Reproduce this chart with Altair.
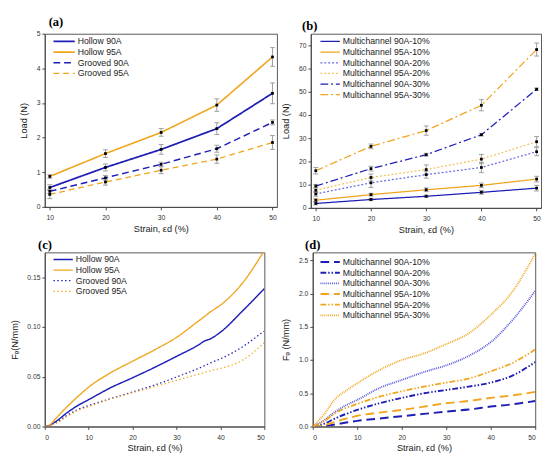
import altair as alt
import pandas as pd

FONT = "Liberation Sans"
BLUE = "#1f1fb5"
GOLD = "#f0a51c"
ERR = "#9c9c9c"

# ---------------- (a) ----------------
strain_ab = [10, 20, 30, 40, 50]
a_names = ["Hollow 90A", "Hollow 95A", "Grooved 90A", "Grooved 95A"]
a_vals = [
    [0.56, 1.14, 1.66, 2.26, 3.28],
    [0.88, 1.54, 2.15, 2.94, 4.33],
    [0.45, 0.84, 1.23, 1.68, 2.44],
    [0.36, 0.72, 1.06, 1.38, 1.86],
]
a_errs = [
    [0.08, 0.10, 0.14, 0.17, 0.30],
    [0.05, 0.11, 0.11, 0.18, 0.27],
    [0.06, 0.07, 0.06, 0.10, 0.07],
    [0.12, 0.09, 0.10, 0.12, 0.20],
]
a_colors = [BLUE, GOLD, BLUE, GOLD]
a_dashes = [[1, 0], [1, 0], [7, 4], [6, 4]]
a_widths = [1.8, 1.3, 2.2, 1.8]

# ---------------- (b) ----------------
b_names = ["Multichannel 90A-10%", "Multichannel 95A-10%", "Multichannel 90A-20%",
           "Multichannel 95A-20%", "Multichannel 90A-30%", "Multichannel 95A-30%"]
b_vals = [
    [1.9, 3.6, 5.0, 6.7, 8.5],
    [3.3, 5.7, 7.8, 9.7, 12.4],
    [6.0, 10.8, 14.3, 17.4, 24.2],
    [7.6, 13.1, 16.5, 21.0, 28.5],
    [9.4, 16.9, 22.9, 31.5, 51.1],
    [16.0, 26.5, 33.3, 44.2, 68.2],
]
b_errs = [
    [0.6, 0.5, 0.5, 0.8, 1.2],
    [0.6, 0.6, 0.8, 1.0, 1.2],
    [1.0, 2.0, 1.5, 2.2, 1.7],
    [1.0, 1.5, 2.0, 2.0, 2.2],
    [0.7, 1.0, 0.6, 0.5, 0.5],
    [1.4, 1.0, 2.0, 2.4, 2.8],
]
b_colors = [BLUE, GOLD, "#6a6ae0", "#f3c260", BLUE, GOLD]
b_dashes = [[1, 0], [1, 0], [2, 2], [2, 2], [8, 3, 2, 3], [8, 3, 2, 3]]
b_widths = [1.3, 1.3, 1.0, 1.0, 2.0, 2.0]

# ---------------- (c) ----------------
strain_c = [0, 1, 2.5, 5, 7.5, 10, 15, 20, 25, 30, 35, 36.5, 37.5, 40, 45, 50]
c_names = ["Hollow 90A", "Hollow 95A", "Grooved 90A", "Grooved 95A"]
c_vals = [
    [0, 0.001, 0.005, 0.0136, 0.021, 0.027, 0.039, 0.049, 0.0594, 0.0705, 0.082, 0.0862, 0.0877, 0.0948, 0.116, 0.1386],
    [0, 0.001, 0.008, 0.0195, 0.030, 0.0396, 0.054, 0.0656, 0.077, 0.0896, 0.106, 0.111, 0.1145, 0.122, 0.144, 0.177],
    [0, 0.001, 0.004, 0.011, 0.017, 0.021, 0.028, 0.0347, 0.0416, 0.0497, 0.0584, 0.0613, 0.0635, 0.068, 0.080, 0.0964],
    [0, 0.001, 0.003, 0.0097, 0.016, 0.020, 0.0276, 0.034, 0.040, 0.0464, 0.0526, 0.0545, 0.0558, 0.0584, 0.0665, 0.0844],
]
c_colors = [BLUE, GOLD, BLUE, GOLD]
c_dashes = [[1, 0], [1, 0], [1.5, 2.5], [1.5, 2.5]]
c_widths = [1.5, 1.2, 1.8, 1.5]

# ---------------- (d) ----------------
strain_d = [0, 2.5, 5, 7.5, 10, 15, 20, 25, 30, 35, 40, 45, 50]
d_names = ["Multichannel 90A-10%", "Multichannel 90A-20%", "Multichannel 90A-30%",
           "Multichannel 95A-10%", "Multichannel 95A-20%", "Multichannel 95A-30%"]
d_vals = [
    [0, 0.005, 0.03, 0.06, 0.085, 0.12, 0.155, 0.19, 0.225, 0.255, 0.30, 0.335, 0.385],
    [0, 0.04, 0.12, 0.19, 0.25, 0.35, 0.43, 0.50, 0.55, 0.60, 0.66, 0.77, 0.97],
    [0, 0.09, 0.22, 0.32, 0.40, 0.58, 0.70, 0.82, 0.92, 1.06, 1.27, 1.61, 2.04],
    [0, 0.02, 0.07, 0.12, 0.16, 0.21, 0.25, 0.30, 0.35, 0.385, 0.43, 0.47, 0.52],
    [0, 0.08, 0.20, 0.28, 0.34, 0.45, 0.53, 0.60, 0.66, 0.72, 0.83, 0.96, 1.16],
    [0, 0.18, 0.41, 0.54, 0.65, 0.85, 1.00, 1.10, 1.24, 1.40, 1.68, 2.04, 2.60],
]
d_colors = [BLUE, BLUE, "#5a5ae0", GOLD, GOLD, GOLD]
d_dashes = [[9, 5], [6, 2, 1.5, 2, 1.5, 2], [1, 1], [9, 5], [6, 2, 1.5, 2, 1.5, 2], [1, 1]]
d_widths = [2.0, 1.8, 1.0, 1.5, 1.5, 1.0]

XTITLE = "Strain, \u03b5d (%)"
SYM = 9.0   # symbol box used by the legend layout
ROWH = 11.0  # legend row height


def frame(xs, names, vals, errs=None):
    rows = []
    for i, name in enumerate(names):
        for j, xv in enumerate(xs):
            e = errs[i][j] if errs else 0
            rows.append({"x": xv, "y": vals[i][j], "lo": vals[i][j] - e,
                         "hi": vals[i][j] + e, "s": name})
    return pd.DataFrame(rows)


def panel(df, names, colors, dashes, widths, xdom, xvals, ydom, yvals, yfmt,
          ytitle, title, tdx, sym_x, row1_y, symlen, w, h, interp, errors):
    xscale = alt.Scale(domain=xdom, nice=False, zero=False)
    yscale = alt.Scale(domain=ydom, nice=False)
    xaxis = alt.Axis(values=xvals, title=XTITLE, format="d", labelOverlap=False)
    yaxis = alt.Axis(values=yvals, title=ytitle, format=yfmt, labelOverlap=False)
    k = symlen / SYM
    ext = (symlen - SYM) / 2
    leg = alt.Legend(title=None, orient="none", legendX=sym_x + ext, legendY=row1_y - ROWH / 2,
                     symbolType=f"M-{k:.3f},0H{k:.3f}", symbolSize=SYM * SYM,
                     labelFontSize=9, labelFont=FONT, labelColor="#222",
                     rowPadding=0, padding=0, labelOffset=2 + ext)
    base = alt.Chart(df)
    X = lambda f: alt.X(f, scale=xscale, axis=xaxis)
    Y = lambda f: alt.Y(f, scale=yscale, axis=yaxis)
    line = base.mark_line(interpolate=interp, clip=True).encode(
        x=X("x:Q"), y=Y("y:Q"),
        color=alt.Color("s:O", scale=alt.Scale(domain=names, range=colors), legend=leg),
        strokeDash=alt.StrokeDash("s:O", scale=alt.Scale(domain=names, range=dashes), legend=leg),
        strokeWidth=alt.StrokeWidth("s:O", scale=alt.Scale(domain=names, range=widths), legend=leg),
    )
    layers = []
    if errors:
        rule = base.mark_rule(color=ERR, strokeWidth=1).encode(x=X("x:Q"), y=Y("lo:Q"), y2="hi:Q")
        cap1 = base.mark_rule(color=ERR, strokeWidth=1, xOffset=-2.5, x2Offset=2.5).encode(
            x=X("x:Q"), x2="x:Q", y=Y("lo:Q"))
        cap2 = base.mark_rule(color=ERR, strokeWidth=1, xOffset=-2.5, x2Offset=2.5).encode(
            x=X("x:Q"), x2="x:Q", y=Y("hi:Q"))
        layers += [rule, cap1, cap2]
    layers.append(line)
    if errors:
        pts = base.mark_square(size=8, color="black", opacity=1).encode(x=X("x:Q"), y=Y("y:Q"))
        layers.append(pts)
    return alt.layer(*layers).properties(
        width=w, height=h,
        title=alt.Title(title, anchor="start", frame="group", font="Liberation Serif",
                        fontSize=13, fontWeight="bold", color="black", dx=tdx, offset=1),
    )


pa = panel(frame(strain_ab, a_names, a_vals, a_errs), a_names, a_colors, a_dashes, a_widths,
           [9.1, 50.8], strain_ab, [0, 5], [0, 1, 2, 3, 4, 5], "d", "Load (N)", "(a)", 4,
           8, 8, 22, 240, 179, "linear", True)
pb = panel(frame(strain_ab, b_names, b_vals, b_errs), b_names, b_colors, b_dashes, b_widths,
           [9.1, 50.8], strain_ab, [0, 75], [0, 10, 20, 30, 40, 50, 60, 70], "d", "Load (N)", "(b)", -9,
           9, 8, 20, 238, 180, "linear", True)
pc = panel(frame(strain_c, c_names, c_vals), c_names, c_colors, c_dashes, c_widths,
           [0, 50], [0, 10, 20, 30, 40, 50], [0, 0.175], [0, 0.05, 0.10, 0.15], ".2f",
           "F\u2091(N/mm)", "(c)", -7, 8, 7.3, 20, 227, 180, "monotone", False)
pd_ = panel(frame(strain_d, d_names, d_vals), d_names, d_colors, d_dashes, d_widths,
            [0, 50], [0, 10, 20, 30, 40, 50], [0, 2.62], [0, 0.5, 1.0, 1.5, 2.0, 2.5], ".1f",
            "F\u2091 (N/mm)", "(d)", -8, 7, 10, 20, 230, 180, "monotone", False)

IND = dict(color="independent", strokeDash="independent", strokeWidth="independent",
           x="independent", y="independent")
LEG = dict(color="independent", strokeDash="independent", strokeWidth="independent")
chart = alt.concat(pa, pb, pc, pd_, columns=2, spacing=alt.RowColnumber(row=4, column=2)
                   ).resolve_scale(**IND).resolve_legend(**LEG).properties(
    padding=0, align="none"
).configure_view(
    stroke="#555", strokeWidth=1
).configure_axis(
    grid=False, labelFont=FONT, titleFont=FONT, labelFontSize=7, titleFontSize=9.5,
    labelColor="#333", titleColor="#222", titleFontWeight="normal", labelOverlap=False,
    domainColor="#444", tickColor="#444", tickSize=3, labelPadding=2, titlePadding=3,
).configure_axisY(titlePadding=8).configure_axisX(labelPadding=4)

chart.save("out.html", embed_options={"renderer": "svg", "actions": False})
